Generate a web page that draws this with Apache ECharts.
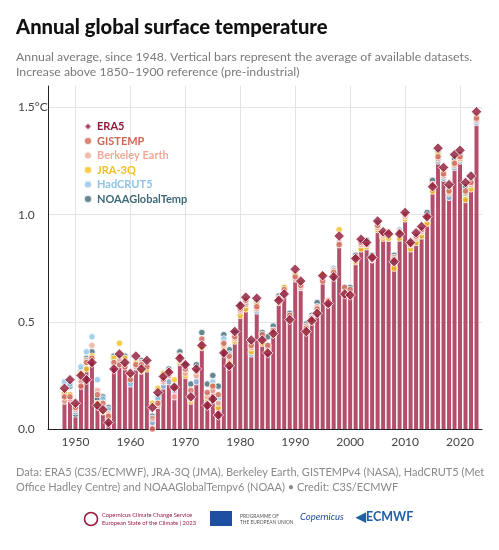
<!DOCTYPE html>
<html><head><meta charset="utf-8">
<script src="https://cdn.jsdelivr.net/npm/echarts@6/dist/echarts.min.js"></script>
<style>html,body{margin:0;padding:0;background:#fff}#c{width:499px;height:550px}</style>
</head><body><div id="c"></div>
<script>
const years = [1948,1949,1950,1951,1952,1953,1954,1955,1956,1957,1958,1959,1960,1961,1962,1963,1964,1965,1966,1967,1968,1969,1970,1971,1972,1973,1974,1975,1976,1977,1978,1979,1980,1981,1982,1983,1984,1985,1986,1987,1988,1989,1990,1991,1992,1993,1994,1995,1996,1997,1998,1999,2000,2001,2002,2003,2004,2005,2006,2007,2008,2009,2010,2011,2012,2013,2014,2015,2016,2017,2018,2019,2020,2021,2022,2023];
const axisYears = ['1945','1946','1947'].concat(years.map(String), ['2024']);
const era5 = [0.19,0.23,0.12,0.25,0.23,0.31,0.11,0.09,0.03,0.28,0.35,0.31,0.26,0.34,0.28,0.32,0.10,0.17,0.245,0.265,0.195,0.33,0.30,0.15,0.28,0.39,0.11,0.14,0.065,0.355,0.295,0.455,0.575,0.615,0.415,0.61,0.415,0.355,0.445,0.60,0.63,0.51,0.745,0.69,0.455,0.505,0.54,0.715,0.585,0.71,0.90,0.63,0.625,0.795,0.885,0.87,0.80,0.97,0.92,0.91,0.78,0.91,1.01,0.87,0.915,0.945,0.99,1.13,1.31,1.22,1.14,1.28,1.30,1.15,1.18,1.48];
const gistemp = [0.15,0.15,0.10,0.20,0.31,0.33,0.16,0.12,0.06,0.31,0.30,0.29,0.23,0.30,0.30,0.29,0.00,0.12,0.23,0.27,0.19,0.34,0.28,0.18,0.27,0.42,0.17,0.20,0.16,0.40,0.34,0.43,0.56,0.60,0.39,0.57,0.44,0.39,0.46,0.61,0.65,0.53,0.71,0.67,0.47,0.51,0.56,0.69,0.58,0.73,0.86,0.66,0.65,0.80,0.87,0.86,0.80,0.95,0.91,0.92,0.79,0.92,1.00,0.86,0.90,0.93,0.99,1.14,1.27,1.19,1.11,1.24,1.27,1.11,1.15,1.45];
const berkeley = [0.13,0.14,0.09,0.22,0.32,0.39,0.18,0.10,0.07,0.30,0.32,0.30,0.24,0.29,0.31,0.30,0.05,0.11,0.22,0.25,0.15,0.32,0.26,0.14,0.25,0.40,0.15,0.18,0.12,0.39,0.33,0.42,0.55,0.58,0.38,0.56,0.42,0.38,0.45,0.60,0.64,0.52,0.70,0.66,0.48,0.52,0.57,0.70,0.60,0.74,0.87,0.65,0.64,0.79,0.86,0.86,0.79,0.94,0.90,0.91,0.80,0.91,0.99,0.86,0.89,0.92,0.98,1.13,1.26,1.18,1.10,1.23,1.26,1.10,1.14,1.44];
const jra3q = [0.17,0.16,0.11,0.26,0.28,0.34,0.12,0.08,0.05,0.33,0.40,0.33,0.25,0.31,0.27,0.28,0.12,0.19,0.26,0.26,0.23,0.31,0.25,0.13,0.26,0.38,0.14,0.20,0.10,0.38,0.31,0.41,0.53,0.56,0.36,0.58,0.40,0.37,0.44,0.59,0.66,0.51,0.72,0.68,0.46,0.50,0.55,0.72,0.60,0.73,0.93,0.64,0.63,0.78,0.84,0.85,0.79,0.93,0.89,0.89,0.75,0.89,0.98,0.84,0.87,0.90,0.96,1.11,1.28,1.20,1.11,1.24,1.26,1.07,1.12,1.46];
const hadcrut5 = [0.22,0.21,0.08,0.29,0.36,0.43,0.23,0.14,0.09,0.32,0.31,0.31,0.21,0.29,0.29,0.31,0.03,0.14,0.20,0.22,0.18,0.34,0.27,0.16,0.22,0.41,0.16,0.22,0.14,0.42,0.35,0.43,0.54,0.58,0.35,0.55,0.41,0.39,0.46,0.60,0.63,0.52,0.71,0.66,0.47,0.52,0.56,0.70,0.58,0.75,0.86,0.64,0.63,0.79,0.86,0.86,0.79,0.94,0.90,0.89,0.78,0.93,0.99,0.85,0.89,0.92,0.99,1.14,1.25,1.17,1.08,1.22,1.25,1.09,1.13,1.43];
const noaa = [0.17,0.20,0.07,0.27,0.33,0.36,0.14,0.15,0.10,0.34,0.33,0.34,0.22,0.30,0.32,0.31,0.06,0.15,0.24,0.28,0.20,0.36,0.30,0.21,0.30,0.45,0.21,0.25,0.20,0.44,0.37,0.45,0.58,0.59,0.40,0.59,0.45,0.43,0.48,0.62,0.66,0.54,0.72,0.67,0.49,0.53,0.59,0.70,0.59,0.74,0.87,0.66,0.66,0.81,0.87,0.88,0.81,0.96,0.91,0.90,0.81,0.92,0.99,0.87,0.90,0.93,1.01,1.16,1.29,1.19,1.12,1.26,1.28,1.13,1.15,1.44];
const average = [0.16,0.17,0.09,0.24,0.29,0.36,0.15,0.11,0.06,0.31,0.33,0.31,0.23,0.30,0.29,0.30,0.06,0.14,0.22,0.25,0.19,0.33,0.27,0.16,0.26,0.41,0.16,0.20,0.13,0.40,0.34,0.43,0.55,0.58,0.38,0.57,0.42,0.38,0.45,0.60,0.64,0.52,0.71,0.67,0.47,0.51,0.56,0.70,0.59,0.73,0.88,0.65,0.64,0.79,0.86,0.86,0.79,0.95,0.90,0.90,0.78,0.91,0.99,0.86,0.89,0.92,0.98,1.13,1.27,1.18,1.10,1.24,1.27,1.10,1.14,1.42];
const yTicks = [0, 0.5, 1.0, 1.5];

const FONT = 'Lato, "Noto Sans", sans-serif';
const pairs = a => years.map((y, i) => [String(y), a[i]]);
const dot = (name, data, color, z) => ({
  name, type: 'scatter', data: pairs(data), symbol: 'circle', symbolSize: 6.5, z,
  itemStyle: { color, borderColor: '#fff', borderWidth: 1 }
});
const chart = echarts.init(document.getElementById('c'), null, { renderer: 'canvas' });
const legendColors = { 'ERA5': '#8e1838', 'GISTEMP': '#cf6656', 'Berkeley Earth': '#eeab98', 'JRA-3Q': '#f2c21b', 'HadCRUT5': '#8cc4e8', 'NOAAGlobalTemp': '#3e6977' };
chart.setOption({
  animation: false,
  textStyle: { fontFamily: FONT },
  title: [
    { text: 'Annual global surface temperature', left: 16, top: 17, padding: 0, textStyle: { fontSize: 20.2, fontWeight: 900, color: '#111', fontFamily: FONT } },
    { text: 'Annual average, since 1948. Vertical bars represent the average of available datasets.\nIncrease above 1850\u20131900 reference (pre-industrial)', left: 16, top: 50, padding: 0,
      textStyle: { fontSize: 12.3, fontWeight: 'normal', color: '#7a7a7a', lineHeight: 15, fontFamily: FONT } },
    { text: 'Data: ERA5 (C3S/ECMWF), JRA-3Q (JMA), Berkeley Earth, GISTEMPv4 (NASA), HadCRUT5 (Met\nOffice Hadley Centre) and NOAAGlobalTempv6 (NOAA) \u2022 Credit: C3S/ECMWF', left: 16, top: 465, padding: 0,
      textStyle: { fontSize: 11, fontWeight: 'normal', color: '#8a8a8a', lineHeight: 15, fontFamily: FONT } }
  ],
  legend: {
    orient: 'vertical', left: 78, top: 116, itemGap: 3.5, itemWidth: 8, itemHeight: 8,
    data: Object.keys(legendColors).map(n => ({ name: n, icon: n === 'ERA5' ? 'diamond' : 'circle',
      textStyle: { color: legendColors[n], fontWeight: 'bold', fontSize: 11, fontFamily: FONT } }))
  },
  grid: { left: 48, right: 17, top: 86, bottom: 121 },
  xAxis: {
    type: 'category', data: axisYears, boundaryGap: false,
    axisLine: { show: true, lineStyle: { color: '#222', width: 1 } },
    axisTick: { show: false },
    axisLabel: { interval: (i, v) => (+v) % 10 === 0, color: '#444', fontSize: 12, margin: 7, fontFamily: FONT },
    splitLine: { show: true, interval: (i, v) => (+v) % 10 === 0, lineStyle: { color: '#e3e3e3', width: 1 } }
  },
  yAxis: {
    type: 'value', min: 0, max: 1.6, interval: 0.5,
    axisLine: { show: true, lineStyle: { color: '#222', width: 1 } },
    axisTick: { show: false },
    axisLabel: { showMaxLabel: false, align: 'left', margin: 30, color: '#444', fontSize: 12, fontFamily: FONT,
      formatter: v => (Math.abs(v - 1.5) < 1e-9 ? '1.5\u00b0C' : (yTicks.some(t => Math.abs(t - v) < 1e-9) ? v.toFixed(1) : '')) },
    splitLine: { show: true, showMinLine: false, showMaxLine: false, lineStyle: { color: '#e3e3e3', width: 1 } }
  },
  series: [
    { name: 'Average', type: 'bar', data: pairs(average), barWidth: 4, z: 2, itemStyle: { color: '#b34f6a' } },
    dot('NOAAGlobalTemp', noaa, legendColors['NOAAGlobalTemp'], 3),
    dot('HadCRUT5', hadcrut5, legendColors['HadCRUT5'], 4),
    dot('JRA-3Q', jra3q, legendColors['JRA-3Q'], 5),
    dot('Berkeley Earth', berkeley, legendColors['Berkeley Earth'], 6),
    dot('GISTEMP', gistemp, legendColors['GISTEMP'], 7),
    { name: 'ERA5', type: 'scatter', data: pairs(era5), symbol: 'diamond', symbolSize: 10.5, z: 9,
      itemStyle: { color: legendColors['ERA5'], borderColor: '#fff', borderWidth: 1 } }
  ],
  graphic: [
    { type: 'circle', shape: { cx: 91, cy: 519, r: 6.5 }, style: { fill: 'none', stroke: '#9a1b40', lineWidth: 1.6 } },
    { type: 'text', left: 102, top: 511, style: { text: 'Copernicus Climate Change Service\nEuropean State of the Climate | 2023', fill: '#9a1b40', fontSize: 5.8, lineHeight: 8, fontFamily: FONT } },
    { type: 'rect', shape: { x: 210, y: 511, width: 22, height: 15 }, style: { fill: '#1f4fa0' } },
    { type: 'text', left: 240, top: 513, style: { text: 'PROGRAMME OF\nTHE EUROPEAN UNION', fill: '#555', fontSize: 4.8, lineHeight: 6, fontFamily: FONT } },
    { type: 'text', left: 300, top: 512, style: { text: 'Copernicus', fill: '#1f4fa0', fontSize: 9.5, fontStyle: 'italic', fontFamily: FONT } },
    { type: 'text', left: 356, top: 510, style: { text: '\u25C0ECMWF', fill: '#1f5ea8', fontSize: 12.5, fontWeight: 'bold', fontFamily: FONT } }
  ]
});
</script></body></html>
